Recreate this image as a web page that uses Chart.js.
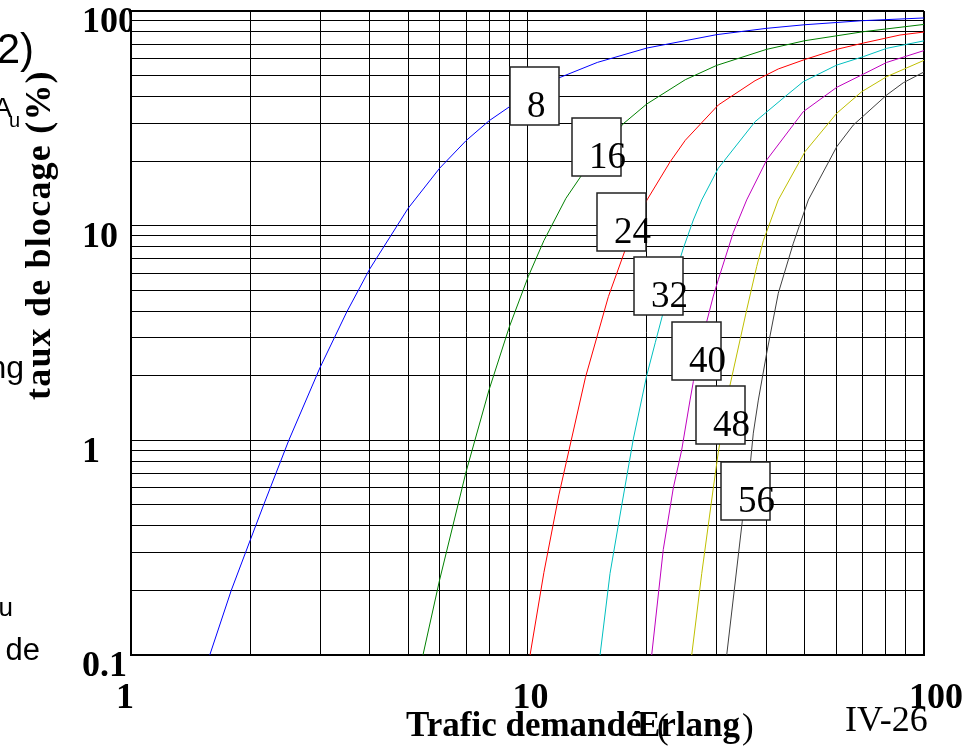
<!DOCTYPE html>
<html>
<head>
<meta charset="utf-8">
<script src="https://cdn.jsdelivr.net/npm/chart.js@4.4.0/dist/chart.umd.min.js"></script>
<style>
html, body { margin: 0; padding: 0; background: #fff; }
#chart { display: block; }
</style>
</head>
<body>
<canvas id="chart" width="965" height="748"></canvas>
<script>
// Blocking (%) against offered traffic (Erlang), one curve per channel count
const curveLabels = ['8', '16', '24', '32', '40', '48', '56'];

const traffic8 = [1.58, 1.79, 2.0, 2.16, 2.5, 3.0, 3.5, 4.0, 5.0, 6.0, 7.0, 8.0, 10, 12, 15, 20, 30, 40, 50, 70, 100];
const blocking8 = [0.1, 0.2, 0.344, 0.5, 1.0, 2.19, 3.96, 6.28, 12.05, 18.5, 24.9, 30.8, 40.9, 48.8, 57.6, 67.2, 77.6, 83.0, 86.3, 90.15, 92.8];

const traffic16 = [5.45, 6.0, 7.0, 8.0, 9.0, 10.05, 11.0, 12.5, 15.0, 17.5, 20.0, 25.0, 30.0, 40.0, 50.0, 70.0, 100];
const blocking16 = [0.1, 0.223, 0.714, 1.72, 3.38, 5.81, 8.52, 13.41, 22.0, 30.0, 36.9, 47.85, 55.8, 66.2, 72.7, 80.0, 86.6];

const traffic24 = [10.15, 11.0, 12.0, 14.0, 16.0, 18.0, 20.0, 22.88, 25.0, 30.28, 37.49, 42.9, 50.0, 60.25, 70.3, 87.0, 100];
const blocking24 = [0.1, 0.2425, 0.557, 1.963, 4.678, 8.56, 13.14, 19.8, 24.99, 36.48, 47.36, 53.7, 59.4, 66.3, 70.9, 77.3, 79.8];

const traffic32 = [15.24, 16.15, 17.29, 18.49, 19.98, 21.0, 22.0, 24.72, 26.2, 27.51, 30.28, 37.49, 44.6, 49.6, 60.25, 70.3, 80.5, 100];
const blocking32 = [0.1, 0.24, 0.5, 1.015, 2.0, 2.85, 3.95, 7.85, 10.63, 13.18, 18.51, 30.5, 39.9, 46.85, 56.0, 61.3, 67.0, 72.6];

const traffic40 = [20.57, 22.0, 23.32, 24.48, 25.7, 26.2, 28.31, 29.42, 30.28, 33.04, 35.71, 40.11, 49.6, 60.25, 70.3, 80.5, 100];
const blocking40 = [0.1, 0.31, 0.6, 0.9, 1.54, 1.88, 3.57, 4.7, 5.6, 9.3, 13.18, 20.23, 33.96, 44.1, 50.8, 57.6, 65.4];

const traffic48 = [25.95, 27.51, 29.42, 30.28, 32.42, 35.71, 37.84, 39.33, 42.9, 50.11, 60.25, 69.66, 80.5, 100];
const blocking48 = [0.1, 0.24, 0.6, 0.88, 1.81, 4.05, 6.44, 8.5, 13.18, 22.12, 33.39, 42.08, 49.43, 58.9];

const traffic56 = [31.8, 34.81, 36.4, 37.11, 38.21, 40.11, 42.9, 46.82, 51.08, 60.25, 66.34, 80.5, 88.7, 100];
const blocking56 = [0.1, 0.42, 0.75, 1.08, 1.54, 2.55, 4.84, 8.28, 13.18, 23.33, 29.44, 40.6, 46.35, 52.0];

// Axis ticks (grid lines) and the labelled decades
const xTicks = [1, 2, 3, 4, 5, 6, 7, 8, 9, 10, 20, 30, 40, 50, 60, 70, 80, 90, 100];
const xTickLabels = ['1', '', '', '', '', '', '', '', '', '10', '', '', '', '', '', '', '', '', '100'];
const yTicks = [0.1, 0.2, 0.3, 0.4, 0.5, 0.6, 0.7, 0.8, 0.9, 1, 2, 3, 4, 5, 6, 7, 8, 9, 10, 20, 30, 40, 50, 60, 70, 80, 90, 100];
const yTickLabels = ['0.1', '', '', '', '', '', '', '', '', '1', '', '', '', '', '', '', '', '', '10', '', '', '', '', '', '', '', '', '100'];

const trafficSeries = [traffic8, traffic16, traffic24, traffic32, traffic40, traffic48, traffic56];
const blockingSeries = [blocking8, blocking16, blocking24, blocking32, blocking40, blocking48, blocking56];
const curveColors = ['#0000ff', '#008000', '#ff0000', '#00bfbf', '#bf00bf', '#bfbf00', '#404040'];

// where the little number boxes sit (pixels, left/top)
const boxSpots = [[510, 67], [572, 118], [597, 193], [634, 257], [672, 322], [696, 386], [721, 462]];

const serif = '"Liberation Serif", "Times New Roman", serif';
const sans = '"Liberation Sans", Arial, sans-serif';

const curveBoxes = {
    id: 'curveBoxes',
    afterDatasetsDraw(chart) {
        const ctx = chart.ctx;
        ctx.save();
        boxSpots.forEach((spot, i) => {
            ctx.fillStyle = '#fff';
            ctx.fillRect(spot[0], spot[1], 49, 58);
            ctx.strokeStyle = '#222';
            ctx.lineWidth = 1.5;
            ctx.strokeRect(spot[0], spot[1], 49, 58);
            ctx.fillStyle = '#000';
            ctx.font = '37px ' + serif;
            ctx.textBaseline = 'alphabetic';
            ctx.textAlign = 'left';
            ctx.fillText(curveLabels[i], spot[0] + 17, spot[1] + 50);
        });
        ctx.restore();
    }
};

const pageTexts = {
    id: 'pageTexts',
    afterDraw(chart) {
        const ctx = chart.ctx;
        ctx.save();
        ctx.fillStyle = '#000';
        ctx.textBaseline = 'alphabetic';

        // x axis title (the pieces overlap as in the original slide)
        ctx.textAlign = 'left';
        ctx.font = 'bold 35px ' + serif;
        ctx.fillText('Trafic demandé', 406, 736);
        ctx.fillText('Erlang', 637, 736);
        ctx.font = '35px ' + serif;
        ctx.fillText('(', 657, 738);
        ctx.fillText(')', 742, 738);

        ctx.font = '36px ' + serif;
        ctx.fillText('IV-26', 845, 731);

        // y axis title, written bottom to top
        ctx.save();
        ctx.translate(50, 400);
        ctx.rotate(-Math.PI / 2);
        ctx.font = 'bold 36px ' + serif;
        ctx.letterSpacing = '1.2px';
        ctx.fillText('taux de blocage (%)', 0, 0);
        ctx.restore();

        // fragments of the slide text on the left edge
        ctx.textAlign = 'right';
        ctx.font = '42px ' + sans;
        ctx.fillText('2)', 34, 63);
        ctx.font = '28px ' + sans;
        ctx.fillText('A', 12, 117);
        ctx.font = '20px ' + sans;
        ctx.fillText('u', 20, 127);
        ctx.font = '32px ' + sans;
        ctx.fillText('ng', 24, 378);
        ctx.font = '26px ' + sans;
        ctx.fillText('u', 13, 616);
        ctx.font = '31px ' + sans;
        ctx.fillText('de', 40, 660);
        ctx.restore();
    }
};

function noScalePadding(scale) {
    scale.paddingLeft = 0;
    scale.paddingRight = 0;
    scale.paddingTop = 0;
    scale.paddingBottom = 0;
}

const chart = new Chart(document.getElementById('chart'), {
    type: 'line',
    data: {
        datasets: trafficSeries.map((xs, i) => ({
            label: curveLabels[i],
            data: xs.map((x, j) => ({ x: x, y: blockingSeries[i][j] })),
            borderColor: curveColors[i],
            borderWidth: 1,
            pointRadius: 0,
            tension: 0,
            fill: false
        }))
    },
    options: {
        responsive: false,
        animation: false,
        events: [],
        layout: { padding: { left: 82, right: 41, top: 11, bottom: 0 } },
        plugins: {
            legend: { display: false },
            tooltip: { enabled: false },
            title: { display: false }
        },
        scales: {
            x: {
                type: 'logarithmic',
                min: 1,
                max: 100,
                afterBuildTicks: (scale) => { scale.ticks = xTicks.map(v => ({ value: v })); },
                afterFit: (scale) => { scale.height = 93; noScalePadding(scale); },
                ticks: {
                    autoSkip: false,
                    maxRotation: 0,
                    minRotation: 0,
                    align: 'start',
                    labelOffset: -15,
                    padding: 22,
                    color: '#000',
                    font: { family: serif, size: 36, weight: 'bold', lineHeight: 1.2 },
                    callback: (value, index) => xTickLabels[index]
                },
                grid: {
                    color: '#000',
                    lineWidth: (ctx) => (ctx.tick && ctx.tick.value === 100 ? 2 : 1),
                    drawTicks: false
                },
                border: { display: true, color: '#000', width: 2 }
            },
            y: {
                type: 'logarithmic',
                min: 0.1,
                max: 100,
                afterBuildTicks: (scale) => { scale.ticks = yTicks.map(v => ({ value: v })); },
                afterFit: (scale) => { scale.width = 49; noScalePadding(scale); },
                ticks: {
                    autoSkip: false,
                    crossAlign: 'far',
                    labelOffset: 12,
                    color: '#000',
                    font: { family: serif, size: 36, weight: 'bold', lineHeight: 1.2 },
                    callback: (value, index) => yTickLabels[index]
                },
                grid: {
                    color: '#000',
                    lineWidth: (ctx) => (ctx.tick && ctx.tick.value === 100 ? 2 : 1),
                    drawTicks: false
                },
                border: { display: true, color: '#000', width: 2 }
            }
        }
    },
    plugins: [curveBoxes, pageTexts]
});
</script>
</body>
</html>
